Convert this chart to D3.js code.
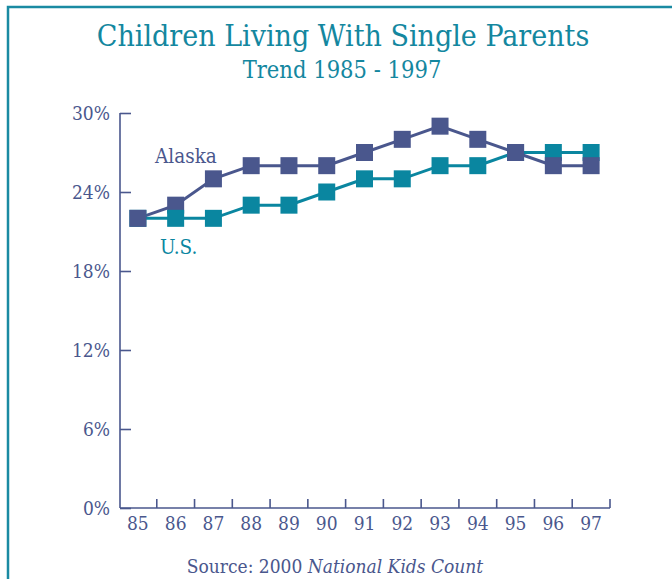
<!DOCTYPE html>
<meta charset="utf-8">
<style>
  body { margin: 0; background: #fff; }
  text { font-family: "DejaVu Serif Condensed", "Liberation Serif", serif; font-stretch: condensed; }
</style>
<body>
<div id="chart"></div>
<script src="https://cdn.jsdelivr.net/npm/d3@7"></script>
<script>
  // data
  var years = ["85", "86", "87", "88", "89", "90", "91", "92", "93", "94", "95", "96", "97"];
  var alaska = [22, 23, 25, 26, 26, 26, 27, 28, 29, 28, 27, 26, 26];
  var us = [22, 22, 22, 23, 23, 24, 25, 25, 26, 26, 27, 27, 27];
  var yTicks = [0, 6, 12, 18, 24, 30];

  var W = 672, H = 579;
  var teal = "#0a86a0", slate = "#4a578d";

  var svg = d3.select("#chart").append("svg")
    .attr("width", W)
    .attr("height", H);

  // frame (runs off the right and bottom edge)
  svg.append("path")
    .attr("d", "M8," + H + "V7H" + W)
    .attr("fill", "none")
    .attr("stroke", "#1a8aa2")
    .attr("stroke-width", 2.5);

  svg.append("text")
    .attr("x", 343).attr("y", 46)
    .attr("text-anchor", "middle")
    .attr("fill", "#14879f")
    .style("font-size", "30px")
    .text("Children Living With Single Parents");

  svg.append("text")
    .attr("x", 342).attr("y", 78)
    .attr("text-anchor", "middle")
    .attr("fill", "#14879f")
    .style("font-size", "23.5px")
    .text("Trend 1985 - 1997");

  var x = d3.scaleBand().domain(years).range([119, 610]);
  var y = d3.scaleLinear().domain([0, 30]).range([508, 113]);

  // y axis, ticks pointing inward
  var yAxis = svg.append("g")
    .attr("transform", "translate(120,0)")
    .call(d3.axisRight(y).tickValues(yTicks).tickSize(11).tickFormat(function(d) { return d + "%"; }));
  yAxis.select(".domain").remove();
  yAxis.append("line")
    .attr("y1", y(30)).attr("y2", y(0))
    .attr("stroke", slate).attr("stroke-width", 1.6);
  yAxis.selectAll(".tick line").attr("stroke", slate).attr("stroke-width", 1.6);
  yAxis.selectAll(".tick text")
    .attr("x", -10)
    .attr("text-anchor", "end")
    .attr("fill", slate)
    .style("font-size", "19px");

  // x axis, tick marks at band edges pointing up
  var xg = svg.append("g");
  xg.append("line")
    .attr("x1", 120).attr("x2", x.range()[1])
    .attr("y1", y(0)).attr("y2", y(0))
    .attr("stroke", slate).attr("stroke-width", 1.6);
  xg.selectAll(".xt")
    .data(years.slice(1).concat(["end"]))
    .enter().append("line")
    .attr("class", "xt")
    .attr("x1", function(d, i) { return x(years[0]) + (i + 1) * x.step(); })
    .attr("x2", function(d, i) { return x(years[0]) + (i + 1) * x.step(); })
    .attr("y1", y(0)).attr("y2", y(0) - 9)
    .attr("stroke", slate).attr("stroke-width", 1.6);
  xg.selectAll(".xl")
    .data(years)
    .enter().append("text")
    .attr("class", "xl")
    .attr("x", function(d) { return x(d) + x.bandwidth() / 2; })
    .attr("y", y(0) + 22)
    .attr("text-anchor", "middle")
    .attr("fill", slate)
    .style("font-size", "19px")
    .text(function(d) { return d; });

  var series = [
    { name: "U.S.", values: us, color: teal },
    { name: "Alaska", values: alaska, color: slate }
  ];

  var line = d3.line()
    .x(function(d, i) { return x(years[i]) + x.bandwidth() / 2; })
    .y(function(d) { return y(d); });

  series.forEach(function(s) {
    svg.append("path")
      .datum(s.values)
      .attr("d", line)
      .attr("fill", "none")
      .attr("stroke", s.color)
      .attr("stroke-width", 3);
  });

  // markers: lower points drawn last, ties go to Alaska
  var pts = [];
  series.forEach(function(s, si) {
    s.values.forEach(function(v, i) {
      pts.push({ year: years[i], v: v, color: s.color, si: si });
    });
  });
  pts.sort(function(a, b) { return b.v - a.v || a.si - b.si; });

  var sz = 17;
  svg.selectAll(".mk")
    .data(pts)
    .enter().append("rect")
    .attr("class", "mk")
    .attr("x", function(d) { return x(d.year) + x.bandwidth() / 2 - sz / 2; })
    .attr("y", function(d) { return y(d.v) - sz / 2; })
    .attr("width", sz)
    .attr("height", sz)
    .attr("fill", function(d) { return d.color; });

  svg.append("text")
    .attr("x", 155).attr("y", 163)
    .attr("fill", slate)
    .style("font-size", "20.5px")
    .text("Alaska");

  svg.append("text")
    .attr("x", 160).attr("y", 254)
    .attr("fill", teal)
    .style("font-size", "20.5px")
    .text("U.S.");

  var src = svg.append("text")
    .attr("x", 335).attr("y", 573)
    .attr("text-anchor", "middle")
    .attr("fill", slate)
    .style("font-size", "19px");
  src.append("tspan").text("Source: 2000 ");
  src.append("tspan").style("font-style", "italic").text("National Kids Count");
</script>
</body>
